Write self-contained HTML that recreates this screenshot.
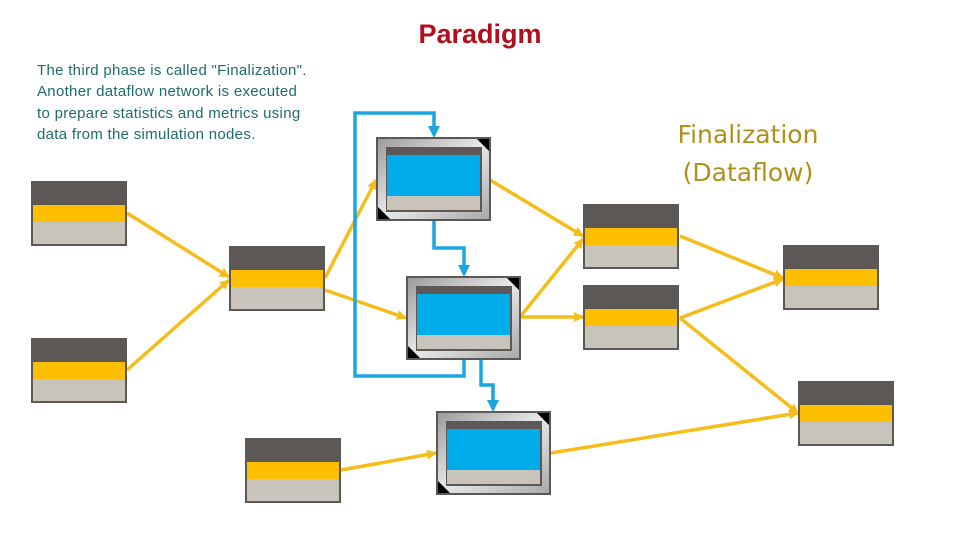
<!DOCTYPE html>
<html><head><meta charset="utf-8"><style>
html,body{margin:0;padding:0;background:#fff;}
body{width:960px;height:540px;overflow:hidden;position:relative;font-family:"Liberation Sans",sans-serif;}
</style></head><body>
<svg width="960" height="540" xmlns="http://www.w3.org/2000/svg" style="position:absolute;left:0;top:0">
<defs>
<marker id="ay" markerWidth="10" markerHeight="10" refX="9" refY="5" orient="auto" markerUnits="userSpaceOnUse"><path d="M0,0 L10,5 L0,10 z" fill="#f5bd1a"/></marker>
<linearGradient id="fr" x1="0" y1="0" x2="1" y2="1"><stop offset="0" stop-color="#9a9a9c"/><stop offset="0.5" stop-color="#e8e8ea"/><stop offset="1" stop-color="#a8a8aa"/></linearGradient>
<g id="sn">
<rect x="0" y="0" width="96" height="65" fill="#5b5856"/>
<rect x="2" y="24" width="92" height="17" fill="#fdbf00"/>
<rect x="2" y="41" width="92" height="22" fill="#c8c4bc"/>
</g>
<g id="bn">
<rect x="0" y="0" width="113" height="82" fill="url(#fr)" stroke="#5b5856" stroke-width="2"/>
<rect x="9" y="9" width="96" height="65" fill="#5b5856"/>
<rect x="10" y="17" width="93" height="41" fill="#00adea"/>
<rect x="10" y="58" width="93" height="14" fill="#c8c4bc"/>
<path d="M100,1 L112,1 L112,13 z" fill="#000"/>
<path d="M1,69 L1,81 L13,81 z" fill="#000"/>
</g>
</defs>
<text x="480" y="43" text-anchor="middle" font-family="Liberation Sans" font-weight="bold" font-size="27" fill="#b0101e">Paradigm</text>
<g font-family="Liberation Sans" font-size="15" fill="#1f6b6b" letter-spacing="0.3">
<text x="37" y="75">The third phase is called "Finalization".</text>
<text x="37" y="96">Another dataflow network is executed</text>
<text x="37" y="118">to prepare statistics and metrics using</text>
<text x="37" y="139">data from the simulation nodes.</text>
</g>
<g font-family="DejaVu Sans" font-size="25" fill="#b0901a" text-anchor="middle">
<text x="748" y="143">Finalization</text>
<text x="748" y="181">(Dataflow)</text>
</g>
<g stroke="#f5bd1a" stroke-width="3.5" fill="none" marker-end="url(#ay)">
<line x1="127" y1="213" x2="229" y2="277"/>
<line x1="127" y1="370" x2="229" y2="280"/>
<line x1="325" y1="278" x2="376" y2="180"/>
<line x1="325" y1="290" x2="406" y2="318"/>
<line x1="341" y1="470" x2="436" y2="453"/>
<line x1="490" y1="180" x2="583" y2="236"/>
<line x1="520" y1="317" x2="583" y2="239"/>
<line x1="520" y1="317" x2="583" y2="317"/>
<line x1="680" y1="236" x2="783" y2="278"/>
<line x1="680" y1="318" x2="783" y2="279"/>
<line x1="680" y1="318" x2="798" y2="413"/>
<line x1="551" y1="453" x2="798" y2="413"/>
</g>
<g stroke="#1aa6e0" stroke-width="3.5" fill="none">
<polyline points="434,220 434,248 464,248 464,274"/>
<polyline points="464,358 464,376 355,376 355,113 434,113 434,135"/>
<polyline points="481,358 481,385 493,385 493,409"/>
</g>
<g fill="#1aa6e0">
<path d="M428,126 L440,126 L434,138 z"/>
<path d="M458,265 L470,265 L464,277 z"/>
<path d="M487,400 L499,400 L493,412 z"/>
</g>
<use href="#sn" x="31" y="181"/>
<use href="#sn" x="31" y="338"/>
<use href="#sn" x="229" y="246"/>
<use href="#sn" x="245" y="438"/>
<use href="#sn" x="583" y="204"/>
<use href="#sn" x="583" y="285"/>
<use href="#sn" x="783" y="245"/>
<use href="#sn" x="798" y="381"/>
<use href="#bn" x="377" y="138"/>
<use href="#bn" x="407" y="277"/>
<use href="#bn" x="437" y="412"/>
</svg>
</body></html>
